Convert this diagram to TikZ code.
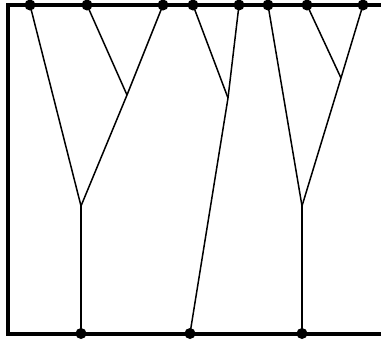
\documentclass[tikz,border=0pt]{standalone}
\begin{document}
\begin{tikzpicture}[x=1pt,y=-1pt,
  frame/.style={line width=4pt},
  edge/.style={line width=1.5pt},
  dot/.style={circle,fill=black,inner sep=0pt,minimum size=11pt}]
\useasboundingbox (0,0) rectangle (381,341);
% frame
\draw[frame] (381,5) -- (8,5) -- (8,333.5) -- (381,333.5);
% top dots
\node[dot] (t1) at (30,5) {};
\node[dot] (t2) at (87,5) {};
\node[dot] (t3) at (163,5) {};
\node[dot] (t4) at (193,5) {};
\node[dot] (t5) at (239,5) {};
\node[dot] (t6) at (268,5) {};
\node[dot] (t7) at (307,5) {};
\node[dot] (t8) at (363,5) {};
% bottom dots
\node[dot] (b1) at (81,333.5) {};
\node[dot] (b2) at (190,333.5) {};
\node[dot] (b3) at (302,333.5) {};
% junctions
\coordinate (j1) at (127,95);
\coordinate (j2) at (81,206);
\coordinate (j3) at (228,98);
\coordinate (j4) at (341,78);
\coordinate (j5) at (302,206);
% edges
\draw[edge] (t1.center) -- (j2);
\draw[edge] (t2.center) -- (j1);
\draw[edge] (t3.center) -- (j1);
\draw[edge] (j1) -- (j2);
\draw[edge] (j2) -- (b1.center);
\draw[edge] (t4.center) -- (j3);
\draw[edge] (t5.center) -- (j3);
\draw[edge] (j3) -- (b2.center);
\draw[edge] (t6.center) -- (j5);
\draw[edge] (t7.center) -- (j4);
\draw[edge] (t8.center) -- (j4);
\draw[edge] (j4) -- (j5);
\draw[edge] (j5) -- (b3.center);
\end{tikzpicture}
\end{document}
